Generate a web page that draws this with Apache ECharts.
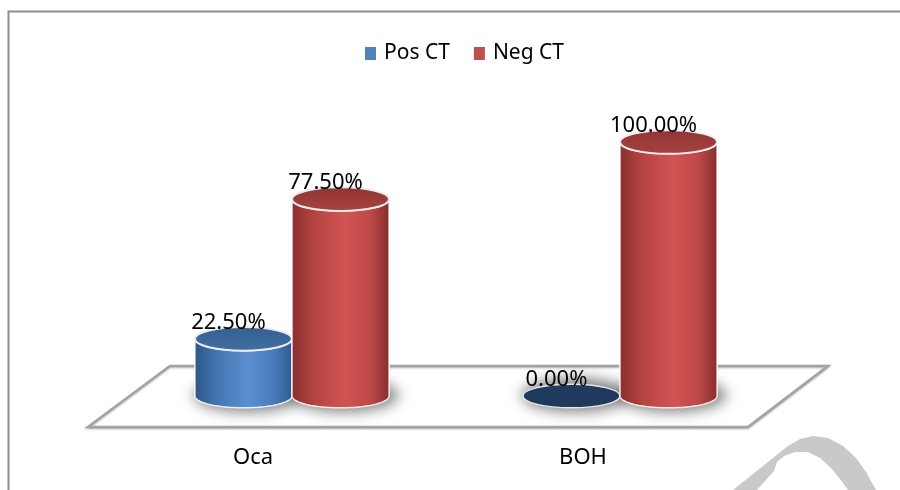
<!DOCTYPE html>
<html>
<head>
<meta charset="utf-8">
<script src="https://cdn.jsdelivr.net/npm/echarts@6/dist/echarts.min.js"></script>
<style>
  html, body { margin: 0; padding: 0; background: #ffffff; }
  #chart { width: 900px; height: 490px; }
</style>
</head>
<body>
<div id="chart"></div>
<script>
// Chart data
const categories = ['Oca', 'BOH'];
const seriesNames = ['Pos CT', 'Neg CT'];
const posCT = [22.5, 0];
const negCT = [77.5, 100];

const FONT = '"Noto Sans", "DejaVu Sans", sans-serif';

// Cylinder colours per series
const styles = {
  'Pos CT': {
    legend: '#4f81bd',
    side: ['#2c5689', '#4677b5', '#5b8fd0', '#4a7cbc', '#2f5a90'],
    top: ['#355e90', '#4170a4'],
    flat: '#203a5d'
  },
  'Neg CT': {
    legend: '#c0504d',
    side: ['#8a2f2e', '#b64543', '#d15452', '#bd4947', '#852d2c'],
    top: ['#8f3534', '#a8423f'],
    flat: '#7a2a29'
  }
};

const fmt = v => v.toFixed(2) + '%';

// Horizontal position of a bar inside its category band
function barGeom(api, i) {
  const band = api.size([1, 0])[0];
  const w = band * 0.296;
  return { w, rx: w / 2, ry: w * 0.122, center: api.coord([i, 0])[0] };
}

function cylinderSeries(name, values, slot) {
  const st = styles[name];
  return {
    type: 'custom',
    name,
    xAxisIndex: 0,
    yAxisIndex: 0,
    itemStyle: { color: st.legend },
    data: values.map((v, i) => [i, v]),
    z: 3,
    renderItem(params, api) {
      const i = api.value(0);
      const v = api.value(1);
      const g = barGeom(api, i);
      const cx = g.center + slot * g.rx;
      const by = api.coord([i, 0])[1];
      const ty = api.coord([i, v])[1];
      const rx = g.rx, ry = g.ry;
      const children = [];
      if (v > 0) {
        // body outline: left side, front half of base, right side, front half of top
        const pts = [[cx - rx, ty], [cx - rx, by]];
        const N = 48;
        for (let k = 0; k <= N; k++) {
          const t = Math.PI - Math.PI * k / N;
          pts.push([cx + rx * Math.cos(t), by + ry * Math.sin(t)]);
        }
        pts.push([cx + rx, ty]);
        for (let k = 0; k <= N; k++) {
          const t = Math.PI * k / N;
          pts.push([cx + rx * Math.cos(t), ty + ry * Math.sin(t)]);
        }
        const s = st.side;
        children.push({
          type: 'polygon',
          shape: { points: pts },
          style: {
            fill: {
              type: 'linear', x: 0, y: 0, x2: 1, y2: 0,
              colorStops: [
                { offset: 0, color: s[0] },
                { offset: 0.25, color: s[1] },
                { offset: 0.55, color: s[2] },
                { offset: 0.8, color: s[3] },
                { offset: 1, color: s[4] }
              ]
            },
            stroke: 'rgba(255,255,255,0.85)',
            lineWidth: 1.5
          }
        });
        children.push({
          type: 'ellipse',
          shape: { cx, cy: ty, rx, ry },
          style: {
            fill: {
              type: 'linear', x: 0, y: 0, x2: 0, y2: 1,
              colorStops: [
                { offset: 0, color: st.top[0] },
                { offset: 1, color: st.top[1] }
              ]
            },
            stroke: '#ececec',
            lineWidth: 2
          }
        });
      } else {
        // zero value: flat disc on the floor
        children.push({
          type: 'ellipse',
          shape: { cx, cy: by, rx, ry },
          style: { fill: st.flat, stroke: '#e8e8e8', lineWidth: 1.5 }
        });
      }
      children.push({
        type: 'text',
        x: cx - 15,
        y: ty - 16,
        style: {
          text: fmt(v),
          font: '22px ' + FONT,
          fill: '#000000',
          align: 'center',
          verticalAlign: 'middle'
        },
        z2: 10
      });
      return { type: 'group', children };
    }
  };
}

const chart = echarts.init(document.getElementById('chart'), null, { renderer: 'canvas' });

// the shadow ellipse is drawn off-canvas and only its blurred shadow is shifted back
const SHADOW_SHIFT = 2000;

const option = {
  animation: false,
  backgroundColor: '#ffffff',
  legend: {
    data: seriesNames,
    left: 360,
    top: 38,
    icon: 'rect',
    itemWidth: 11,
    itemHeight: 13,
    itemGap: 24,
    selectedMode: false,
    textStyle: { fontFamily: FONT, fontSize: 21, color: '#000000', padding: [0, 0, 0, 3] }
  },
  grid: [
    { left: 128, width: 656, top: 142, height: 254 },
    { left: 88, width: 660, top: 380, bottom: 63 }
  ],
  xAxis: [
    { gridIndex: 0, type: 'category', data: categories, show: false },
    {
      gridIndex: 1, type: 'category', data: categories,
      axisLine: { show: false }, axisTick: { show: false },
      axisLabel: { fontFamily: FONT, fontSize: 22, color: '#000000', margin: 20 }
    }
  ],
  yAxis: [
    { gridIndex: 0, type: 'value', min: 0, max: 100, show: false },
    { gridIndex: 1, type: 'value', show: false }
  ],
  graphic: [
    // chart frame
    { type: 'polyline', shape: { points: [[8.5, 490], [8.5, 11.5], [900, 11.5]] },
      style: { stroke: '#8e8e8e', lineWidth: 2, fill: null }, silent: true },
    // faint watermark stroke, bottom right
    { type: 'polygon', shape: { points: [[733, 490], [788, 446], [800, 439], [813, 436], [828, 438], [843, 446], [856, 458], [866, 472], [876, 490]] },
      style: { fill: '#c9c9c9' }, silent: true },
    { type: 'polygon', shape: { points: [[757, 490], [774, 471], [777, 462], [784, 456], [795, 452], [808, 452], [820, 458], [831, 468], [840, 479], [848, 490]] },
      style: { fill: '#ffffff' }, silent: true }
  ],
  series: [
    // floor plane
    {
      type: 'custom',
      xAxisIndex: 0, yAxisIndex: 0,
      data: [[0]],
      silent: true,
      z: 1,
      renderItem(params, api) {
        const cs = params.coordSys;
        const zy = api.coord([0, 0])[1];
        const L = cs.x, R = cs.x + cs.width;
        const pts = [
          [L - 40, zy + 31], [R - 36, zy + 31],
          [R + 44, zy - 30], [L + 42, zy - 30]
        ];
        return {
          type: 'polygon',
          shape: { points: pts },
          style: { fill: '#ffffff', stroke: '#a3a3a3', lineWidth: 2.5,
                   shadowBlur: 2, shadowColor: 'rgba(0,0,0,0.25)', shadowOffsetY: 1 }
        };
      }
    },
    // soft shadows under each cylinder base
    {
      type: 'custom',
      xAxisIndex: 0, yAxisIndex: 0,
      data: categories.flatMap((c, i) => [[i, -1], [i, 1]]),
      silent: true,
      z: 2,
      renderItem(params, api) {
        const i = api.value(0), slot = api.value(1);
        const g = barGeom(api, i);
        const cx = g.center + slot * g.rx;
        const by = api.coord([i, 0])[1];
        return {
          type: 'ellipse',
          shape: { cx: cx + 4 - SHADOW_SHIFT, cy: by - 1, rx: g.rx + 5, ry: g.ry + 5 },
          style: { fill: '#000000', shadowBlur: 14, shadowColor: 'rgba(0,0,0,0.5)', shadowOffsetX: SHADOW_SHIFT }
        };
      }
    },
    cylinderSeries('Pos CT', posCT, -1),
    cylinderSeries('Neg CT', negCT, 1)
  ]
};

chart.setOption(option);
</script>
</body>
</html>
